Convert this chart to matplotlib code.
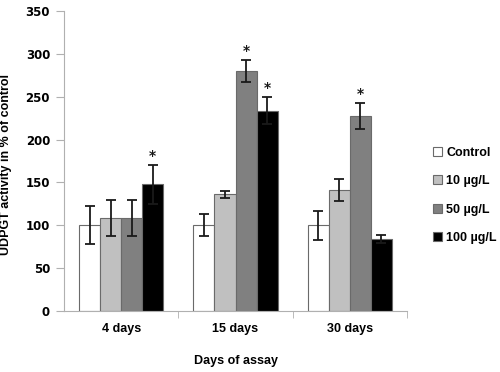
import numpy as np
import matplotlib.pyplot as plt

days = ['4 days', '15 days', '30 days']
series = ['Control', '10 µg/L', '50 µg/L', '100 µg/L']
values = [
    [100, 100, 100],
    [108, 136, 141],
    [109, 280, 228],
    [148, 234, 84],
]
errors = [
    [22, 13, 17],
    [21, 4, 13],
    [21, 13, 15],
    [23, 16, 5],
]
# significant differences (star above the bar)
stars = [
    [False, False, False],
    [False, False, False],
    [False, True, True],
    [True, True, False],
]
colors = ['white', '#c0c0c0', '#808080', 'black']

txt = {'family': 'Liberation Sans', 'weight': 'bold', 'size': 9}

fig = plt.figure(figsize=(5, 3.72), dpi=100)
ax = fig.add_axes([0.128, 0.164, 0.686, 0.806])

x = np.arange(len(days))
w = 0.184
for i in range(len(series)):
    pos = x + (i - 1.5) * w
    ax.bar(pos, values[i], w, color=colors[i], edgecolor='#6a6a6a', linewidth=0.8,
           label=series[i], zorder=2)
    ax.errorbar(pos, values[i], yerr=errors[i], fmt='none', ecolor='#1a1a1a',
                elinewidth=1.3, capsize=3.5, capthick=1.3, zorder=3)
    for j in range(len(days)):
        if stars[i][j]:
            ax.text(pos[j], values[i][j] + errors[i][j] + 2, '*', ha='center', va='bottom',
                    fontsize=10, fontweight='bold', color='#1a1a1a')

ax.set_xlim(-0.5, 2.5)
ax.set_ylim(0, 350)
ax.set_yticks(range(0, 351, 50))
ax.set_xticks(x)
ax.set_xticklabels(days, fontdict=txt)
ax.set_xticks([0.5, 1.5, 2.5], minor=True)
ax.tick_params(axis='x', which='major', length=0, pad=9)
ax.tick_params(axis='x', which='minor', length=5, color='#b0b0b0')
ax.tick_params(axis='y', length=6, color='#b0b0b0', pad=4)
for lab in ax.get_yticklabels():
    lab.set_fontweight('bold')
    lab.set_fontsize(8.5)

for s in ['top', 'right']:
    ax.spines[s].set_visible(False)
for s in ['left', 'bottom']:
    ax.spines[s].set_color('#b0b0b0')

ax.set_ylabel('UDPGT activity in % of control', fontdict=txt)
ax.yaxis.set_label_coords(-0.152, 0.49)
ax.set_xlabel('Days of assay', fontdict=txt, labelpad=14)

leg = ax.legend(loc='upper left', bbox_to_anchor=(433 / 500, 1 - 147 / 372),
                bbox_transform=fig.transFigure, frameon=False,
                borderpad=0, borderaxespad=0,
                handlelength=0.75, handleheight=0.75, handletextpad=0.3,
                labelspacing=1.3, prop=txt)

fig.savefig('out.png', dpi=100)
